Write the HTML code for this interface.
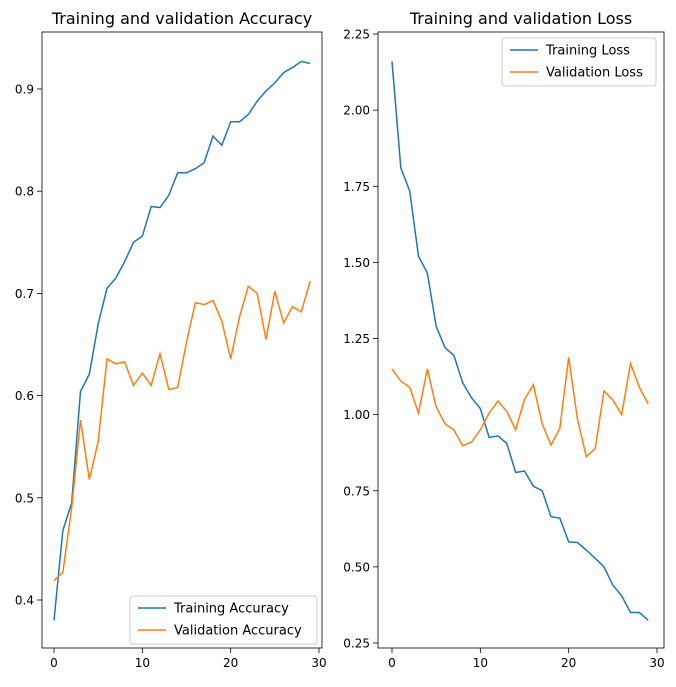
<!DOCTYPE html>
<html><head><meta charset="utf-8"><style>
body{margin:0;background:#fff;}
svg{font-family:"DejaVu Sans","Liberation Sans",sans-serif;}
</style></head><body>
<svg id="chart" width="676" height="682" xmlns="http://www.w3.org/2000/svg"></svg>
<script>
const epochs = Array.from({length:30},(_,i)=>i);
const trainAcc = [0.38,0.468,0.495,0.604,0.621,0.670,0.705,0.715,0.731,0.750,0.756,0.785,0.784,0.796,0.818,0.818,0.822,0.828,0.854,0.845,0.868,0.868,0.875,0.888,0.898,0.906,0.916,0.921,0.927,0.925];
const valAcc = [0.419,0.427,0.490,0.576,0.518,0.555,0.636,0.631,0.633,0.610,0.622,0.610,0.641,0.606,0.608,0.652,0.691,0.689,0.693,0.673,0.636,0.677,0.707,0.700,0.655,0.702,0.671,0.687,0.682,0.712];
const trainLoss = [2.16,1.81,1.735,1.52,1.465,1.29,1.22,1.195,1.105,1.055,1.02,0.925,0.93,0.905,0.81,0.815,0.765,0.75,0.665,0.66,0.582,0.58,0.555,0.528,0.50,0.44,0.405,0.35,0.35,0.325];
const valLoss = [1.15,1.11,1.09,1.005,1.15,1.025,0.97,0.95,0.898,0.91,0.95,1.005,1.045,1.01,0.95,1.05,1.098,0.97,0.90,0.955,1.188,0.985,0.862,0.888,1.078,1.048,1.0,1.168,1.09,1.035];
const xTicks = [0,10,20,30];
const accTicks = [0.4,0.5,0.6,0.7,0.8,0.9];
const lossTicks = [0.25,0.5,0.75,1.0,1.25,1.5,1.75,2.0,2.25];

const svg = document.getElementById('chart');
const NS = 'http://www.w3.org/2000/svg';
function mk(tag, attrs, parent){const e=document.createElementNS(NS,tag);for(const k in attrs)e.setAttribute(k,attrs[k]);(parent||svg).appendChild(e);return e;}

function panel(cfg){
  const g = mk('g',{});
  
  
  const sx = v => cfg.x0 + (v - 0) * (cfg.x30 - cfg.x0) / 30;
  const sy = v => cfg.yA + (v - cfg.vA) * (cfg.yB - cfg.yA) / (cfg.vB - cfg.vA);
  // ticks
  xTicks.forEach(t=>{
    const x=sx(t);
    const l=mk('line',{x1:x,x2:x,y1:cfg.bottom,y2:cfg.bottom+5,stroke:'#000','stroke-width':0.8},g);
    
    
    const tx=mk('text',{x:x,y:cfg.bottom+19,'text-anchor':'middle','font-size':12},g);
    tx.textContent=t;
    
    
  });
  cfg.yTicks.forEach(t=>{
    const y=sy(t);
    const l=mk('line',{x1:cfg.left-5,x2:cfg.left,y1:y,y2:y,stroke:'#000','stroke-width':0.8},g);
    
    
    const tx=mk('text',{x:cfg.left-8,y:y+4.5,'text-anchor':'end','font-size':12},g);
    tx.textContent=cfg.fmt(t);
    
    
  });
  // lines
  [[cfg.s1,'#1f77b4',cfg.n1],[cfg.s2,'#ff7f0e',cfg.n2]].forEach(([arr,c,n])=>{
    const p=mk('polyline',{points:arr.map((v,i)=>sx(epochs[i])+','+sy(v)).join(' '),fill:'none',stroke:c,'stroke-width':1.5},g);
    
    
  });
  const r=mk('rect',{x:cfg.left,y:32,width:cfg.right-cfg.left,height:cfg.bottom-32,fill:'none',stroke:'#000','stroke-width':0.8},g);
  
  
  const ti=mk('text',{x:(cfg.left+cfg.right)/2,y:24,'text-anchor':'middle','font-size':16},g);
  ti.textContent=cfg.title;
  
  
  // legend
  const lg=mk('g',{},g);
  
  
  mk('rect',{x:cfg.lx,y:cfg.ly,width:cfg.lw,height:48,rx:3,fill:'#fff','fill-opacity':0.8,stroke:'#ccc'},lg);
  [[cfg.l1,'#1f77b4'],[cfg.l2,'#ff7f0e']].forEach(([t,c],i)=>{
    const yy=cfg.ly+12+i*22;
    mk('line',{x1:cfg.lx+8,x2:cfg.lx+36,y1:yy,y2:yy,stroke:c,'stroke-width':1.5},lg);
    const tx=mk('text',{x:cfg.lx+44,y:yy+4.5,'font-size':13},lg);
    tx.textContent=t;
    
    
  });
}
panel({name:'accuracy-panel',left:42,right:322,bottom:648,x0:54,x30:319,yA:600,vA:0.4,yB:89,vB:0.9,
  yTicks:accTicks,fmt:t=>t.toFixed(1),s1:trainAcc,s2:valAcc,n1:'training-accuracy-line',n2:'validation-accuracy-line',
  title:'Training and validation Accuracy',lx:130,ly:596,lw:187,l1:'Training Accuracy',l2:'Validation Accuracy'});
panel({name:'loss-panel',left:378,right:664,bottom:648,x0:392,x30:657,yA:643,vA:0.25,yB:34,vB:2.25,
  yTicks:lossTicks,fmt:t=>t.toFixed(2),s1:trainLoss,s2:valLoss,n1:'training-loss-line',n2:'validation-loss-line',
  title:'Training and validation Loss',lx:502,ly:38,lw:154,l1:'Training Loss',l2:'Validation Loss'});
</script>
</body></html>
